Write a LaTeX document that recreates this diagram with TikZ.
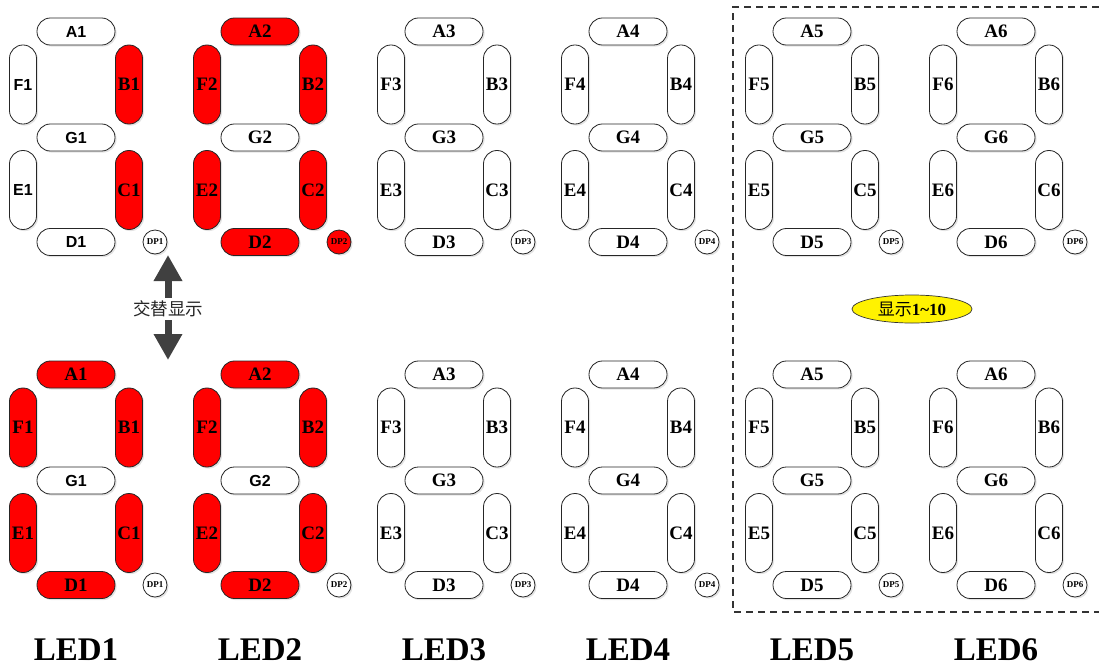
\documentclass[tikz,border=0pt]{standalone}
\usepackage{fontspec}
\setmainfont{Liberation Serif}
\newfontfamily\sansb{Liberation Sans}
\newfontfamily\cjk{Noto Sans CJK SC}
\usetikzlibrary{shapes.geometric,shadows,arrows.meta}
\newcommand\segdigit[4]{%
  \node[hseg,segA] (#1a) at (#2,#3) {A#4};
  \node[vseg,segB] (#1b) at (#2+53,#3+53) {B#4};
  \node[vseg,segC] (#1c) at (#2+53,#3+158.5) {C#4};
  \node[hseg,segD] (#1d) at (#2,#3+210.5) {D#4};
  \node[vseg,segE] (#1e) at (#2-53,#3+158.5) {E#4};
  \node[vseg,segF] (#1f) at (#2-53,#3+53) {F#4};
  \node[hseg,segG] (#1g) at (#2,#3+106) {G#4};
  \node[dpseg,segP] (#1p) at (#2+79,#3+210.5) {DP#4};
}
\begin{document}
\begin{tikzpicture}[x=1pt,y=-1pt,
  segbase/.style={draw=black!85,line width=0.8pt,fill=white,inner sep=0pt,
    font=\fontsize{19}{21}\selectfont\bfseries,
    drop shadow={opacity=0.22,shadow xshift=1.6pt,shadow yshift=-1.6pt}},
  hseg/.style={segbase,rectangle,minimum width=78pt,minimum height=27pt,rounded corners=13.4pt},
  vseg/.style={segbase,rectangle,minimum width=27pt,minimum height=79pt,rounded corners=13.4pt},
  dpseg/.style={segbase,circle,minimum size=24pt,font=\fontsize{9}{10}\selectfont\bfseries},
  on/.style={fill=red},
  sans/.style={font=\sansb\fontsize{16}{18}\selectfont\bfseries},
  segA/.style={},segB/.style={},segC/.style={},segD/.style={},
  segE/.style={},segF/.style={},segG/.style={},segP/.style={},
  ledlabel/.style={font=\fontsize{33}{36}\selectfont\bfseries,inner sep=0pt},
  arrowline/.style={draw=black!75,line width=7pt,-{Triangle[width=27pt,length=26pt]}}
]
\useasboundingbox (0,0) rectangle (1099,670);
% dashed frame
\coordinate (fr1) at (1099,7);
\coordinate (fr2) at (733,7);
\coordinate (fr3) at (733,612);
\coordinate (fr4) at (1099,612);
\draw[black!80,line width=1.4pt,dash pattern=on 7pt off 5pt] (fr1) -- (fr2) -- (fr3) -- (fr4);
% top row
\begin{scope}[segA/.style={sans},segB/.style={on},segC/.style={on},segD/.style={sans},
  segE/.style={sans},segF/.style={sans},segG/.style={sans}]
  \segdigit{ta}{76}{31.5}{1}
\end{scope}
\begin{scope}[segA/.style={on},segB/.style={on},segC/.style={on},segD/.style={on},
  segE/.style={on},segF/.style={on},segP/.style={on}]
  \segdigit{tb}{260}{31.5}{2}
\end{scope}
\segdigit{tc}{444}{31.5}{3}
\segdigit{td}{628}{31.5}{4}
\segdigit{te}{812}{31.5}{5}
\segdigit{tf}{996}{31.5}{6}
% bottom row
\begin{scope}[segA/.style={on},segB/.style={on},segC/.style={on},segD/.style={on},
  segE/.style={on},segF/.style={on},segG/.style={sans}]
  \segdigit{ba}{76}{374.5}{1}
  \segdigit{bb}{260}{374.5}{2}
\end{scope}
\segdigit{bc}{444}{374.5}{3}
\segdigit{bd}{628}{374.5}{4}
\segdigit{be}{812}{374.5}{5}
\segdigit{bf}{996}{374.5}{6}
% alternating arrow
\coordinate (arrtop) at (168,255);
\coordinate (arrbot) at (168,360);
\node[font=\cjk\fontsize{17.5}{19}\selectfont,text=black!85,fill=white,inner sep=1pt,
  minimum height=22pt] (swap) at (168,309) {交替显示};
\draw[arrowline] (swap.north) -- (arrtop);
\draw[arrowline] (swap.south) -- (arrbot);
% yellow ellipse
\node[ellipse,draw=black!80,line width=0.7pt,fill=yellow,minimum width=120pt,minimum height=28pt,inner sep=0pt,
  font=\fontsize{17}{19}\selectfont] (show) at (912,309) {{\cjk 显示}\textbf{1\textasciitilde10}};
% LED labels
\node[ledlabel] (l1) at (76,650) {LED1};
\node[ledlabel] (l2) at (260,650) {LED2};
\node[ledlabel] (l3) at (444,650) {LED3};
\node[ledlabel] (l4) at (628,650) {LED4};
\node[ledlabel] (l5) at (812,650) {LED5};
\node[ledlabel] (l6) at (996,650) {LED6};
\end{tikzpicture}
\end{document}
